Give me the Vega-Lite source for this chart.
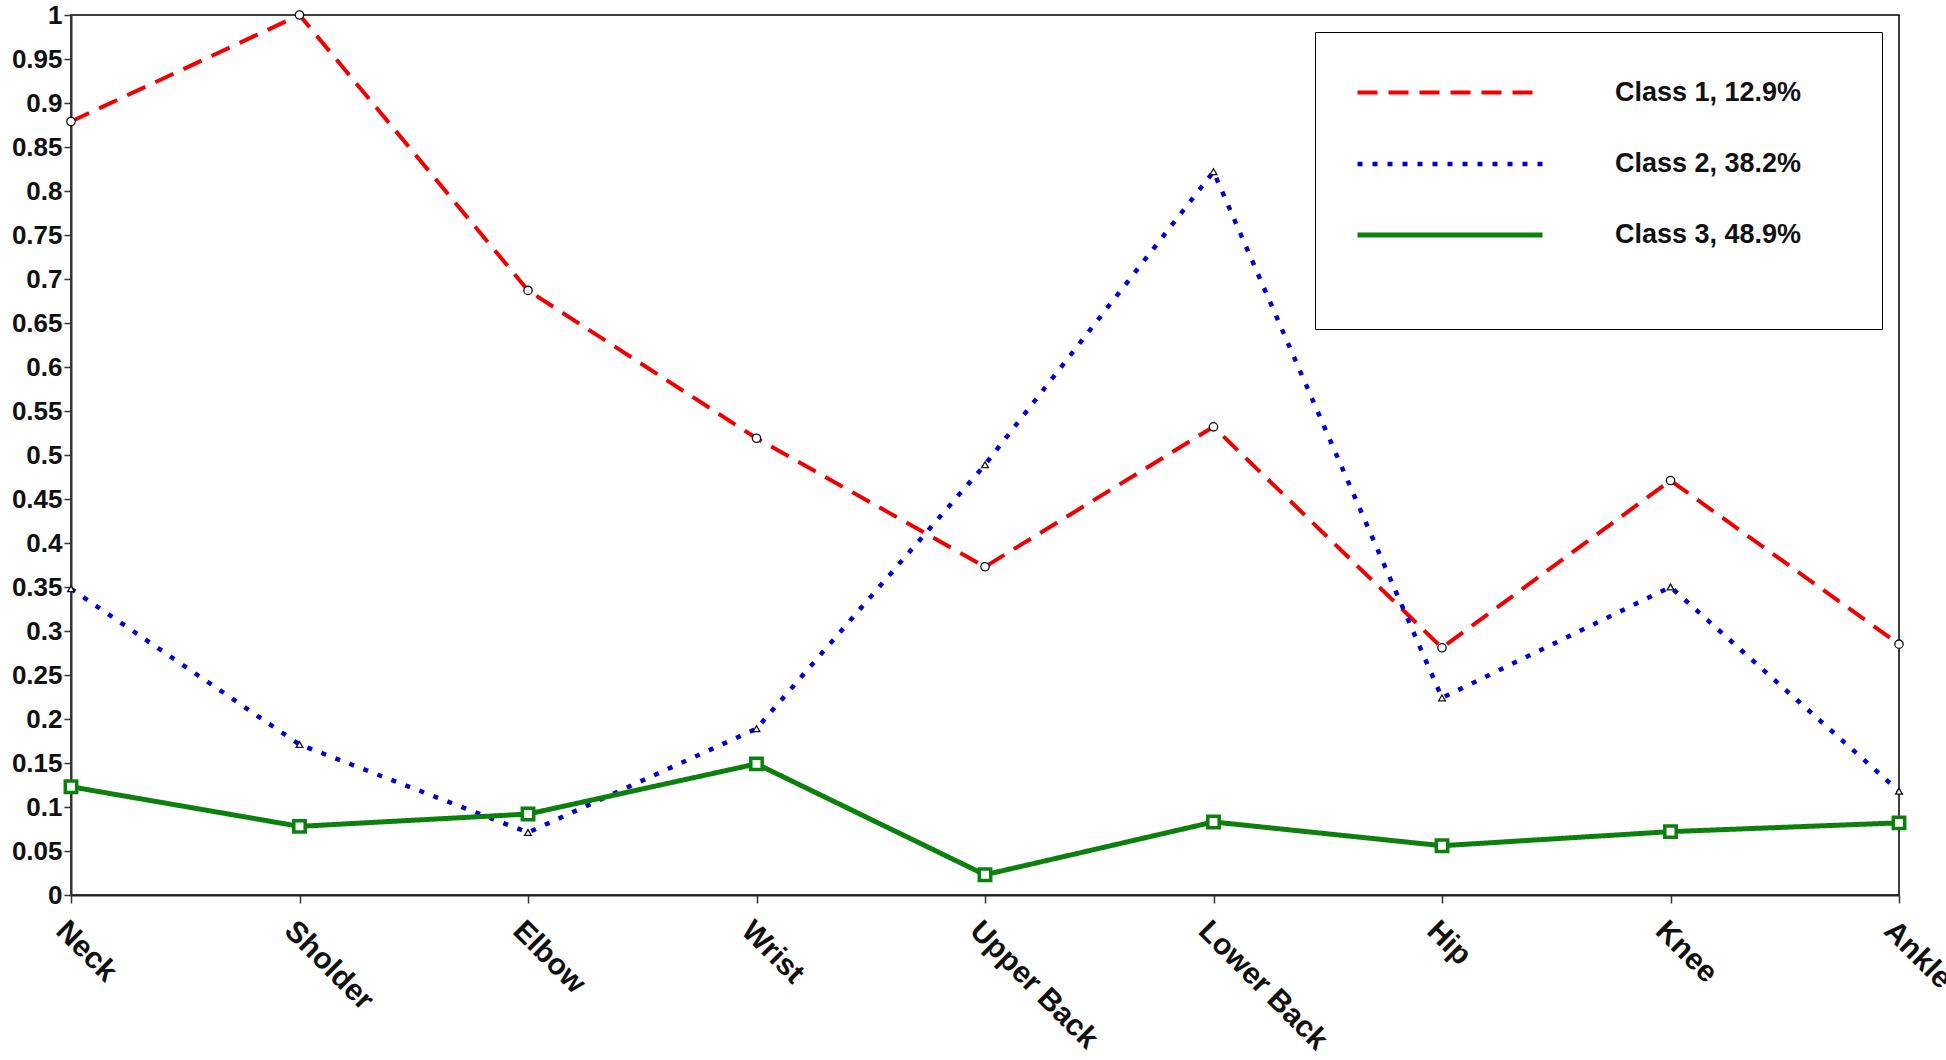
{
  "$schema": "https://vega.github.io/schema/vega-lite/v6.json",
  "width": 1828,
  "height": 880,
  "autosize": {"type": "none"},
  "padding": {"left": 71, "top": 15, "right": 47, "bottom": 165},
  "background": "white",
  "config": {
    "font": "Liberation Sans",
    "view": {"stroke": "black", "strokeWidth": 1.5},
    "axis": {
      "grid": false,
      "domainColor": "#333333",
      "domainWidth": 2,
      "tickColor": "#333333",
      "tickWidth": 1.5,
      "labelFont": "Liberation Sans",
      "labelFontWeight": "bold",
      "labelFontSize": 25,
      "labelColor": "#111111",
      "title": null
    }
  },
  "data": {
    "values": [
      {"part": "Neck", "class": "Class 1, 12.9%", "value": 0.879},
      {"part": "Sholder", "class": "Class 1, 12.9%", "value": 1.0},
      {"part": "Elbow", "class": "Class 1, 12.9%", "value": 0.687},
      {"part": "Wrist", "class": "Class 1, 12.9%", "value": 0.519},
      {"part": "Upper Back", "class": "Class 1, 12.9%", "value": 0.373},
      {"part": "Lower Back", "class": "Class 1, 12.9%", "value": 0.532},
      {"part": "Hip", "class": "Class 1, 12.9%", "value": 0.281},
      {"part": "Knee", "class": "Class 1, 12.9%", "value": 0.471},
      {"part": "Ankle", "class": "Class 1, 12.9%", "value": 0.285},
      {"part": "Neck", "class": "Class 2, 38.2%", "value": 0.348},
      {"part": "Sholder", "class": "Class 2, 38.2%", "value": 0.171},
      {"part": "Elbow", "class": "Class 2, 38.2%", "value": 0.071},
      {"part": "Wrist", "class": "Class 2, 38.2%", "value": 0.189},
      {"part": "Upper Back", "class": "Class 2, 38.2%", "value": 0.489},
      {"part": "Lower Back", "class": "Class 2, 38.2%", "value": 0.822},
      {"part": "Hip", "class": "Class 2, 38.2%", "value": 0.224},
      {"part": "Knee", "class": "Class 2, 38.2%", "value": 0.35},
      {"part": "Ankle", "class": "Class 2, 38.2%", "value": 0.118},
      {"part": "Neck", "class": "Class 3, 48.9%", "value": 0.123},
      {"part": "Sholder", "class": "Class 3, 48.9%", "value": 0.078},
      {"part": "Elbow", "class": "Class 3, 48.9%", "value": 0.092},
      {"part": "Wrist", "class": "Class 3, 48.9%", "value": 0.149},
      {"part": "Upper Back", "class": "Class 3, 48.9%", "value": 0.023},
      {"part": "Lower Back", "class": "Class 3, 48.9%", "value": 0.083},
      {"part": "Hip", "class": "Class 3, 48.9%", "value": 0.056},
      {"part": "Knee", "class": "Class 3, 48.9%", "value": 0.072},
      {"part": "Ankle", "class": "Class 3, 48.9%", "value": 0.082}
    ]
  },
  "encoding": {
    "x": {
      "field": "part",
      "type": "ordinal",
      "sort": null,
      "scale": {"type": "point", "padding": 0},
      "axis": {"labelAngle": 45, "tickSize": 8, "labelPadding": 12, "labelFontSize": 30, "domainColor": "#222222"}
    },
    "y": {
      "field": "value",
      "type": "quantitative",
      "scale": {"domain": [0, 1], "nice": false, "zero": true},
      "axis": {
        "values": [0, 0.05, 0.1, 0.15, 0.2, 0.25, 0.3, 0.35, 0.4, 0.45, 0.5, 0.55, 0.6, 0.65, 0.7, 0.75, 0.8, 0.85, 0.9, 0.95, 1],
        "format": ".2~f",
        "tickSize": 7,
        "labelPadding": 2,
        "labelFontSize": 26
      }
    }
  },
  "layer": [
    {
      "mark": {"type": "line", "strokeCap": "butt"},
      "encoding": {
        "color": {
          "field": "class",
          "type": "nominal",
          "scale": {"domain": ["Class 1, 12.9%", "Class 2, 38.2%", "Class 3, 48.9%"], "range": ["#f00000", "#0000d0", "#0c800c"]},
          "legend": {
            "orient": "none",
            "legendX": 1244,
            "legendY": 17,
            "title": "\u200b\u2003\u2003\u2003\u2003\u2003\u2003\u2003\u2003\u2003\u2003\u2003\u2003\u2003\u2003\u2003\u2003\u2009\u200b",
            "titleOrient": "bottom",
            "titleFontSize": 30,
            "titlePadding": 11,
            "titleLimit": 1000,
            "strokeColor": "black",
            "fillColor": "white",
            "padding": 40,
            "symbolType": "M-1,0H9",
            "symbolSize": 1369,
            "symbolStrokeWidth": 4,
            "labelFont": "Liberation Sans",
            "labelFontWeight": "bold",
            "labelFontSize": 27,
            "labelColor": "#111111",
            "labelLimit": 400,
            "labelOffset": 218,
            "rowPadding": 37
          }
        },
        "strokeDash": {
          "field": "class",
          "type": "nominal",
          "scale": {"domain": ["Class 1, 12.9%", "Class 2, 38.2%", "Class 3, 48.9%"], "range": [[20, 11], [5, 10], [1, 0]]},
          "legend": {
            "orient": "none",
            "legendX": 1244,
            "legendY": 17,
            "title": "\u200b\u2003\u2003\u2003\u2003\u2003\u2003\u2003\u2003\u2003\u2003\u2003\u2003\u2003\u2003\u2003\u2003\u2009\u200b",
            "titleOrient": "bottom",
            "titleFontSize": 30,
            "titlePadding": 11,
            "titleLimit": 1000,
            "strokeColor": "black",
            "fillColor": "white",
            "padding": 40,
            "symbolType": "M-1,0H9",
            "symbolSize": 1369,
            "symbolStrokeWidth": 4,
            "labelFont": "Liberation Sans",
            "labelFontWeight": "bold",
            "labelFontSize": 27,
            "labelColor": "#111111",
            "labelLimit": 400,
            "labelOffset": 218,
            "rowPadding": 37
          }
        },
        "strokeWidth": {
          "field": "class",
          "type": "nominal",
          "scale": {"domain": ["Class 1, 12.9%", "Class 2, 38.2%", "Class 3, 48.9%"], "range": [4, 5, 4.5]},
          "legend": null
        }
      }
    },
    {
      "transform": [{"filter": "datum['class'] === 'Class 1, 12.9%'"}],
      "mark": {"type": "point", "shape": "circle", "filled": false, "fill": "white", "stroke": "#111111", "strokeWidth": 1.3, "size": 70, "opacity": 1}
    },
    {
      "transform": [{"filter": "datum['class'] === 'Class 2, 38.2%'"}],
      "mark": {"type": "point", "shape": "triangle-up", "filled": false, "fill": "white", "stroke": "#111111", "strokeWidth": 1.3, "size": 45, "opacity": 1}
    },
    {
      "transform": [{"filter": "datum['class'] === 'Class 3, 48.9%'"}],
      "mark": {"type": "point", "shape": "square", "filled": false, "fill": "white", "stroke": "#0c800c", "strokeWidth": 3.5, "size": 130, "opacity": 1}
    }
  ]
}
